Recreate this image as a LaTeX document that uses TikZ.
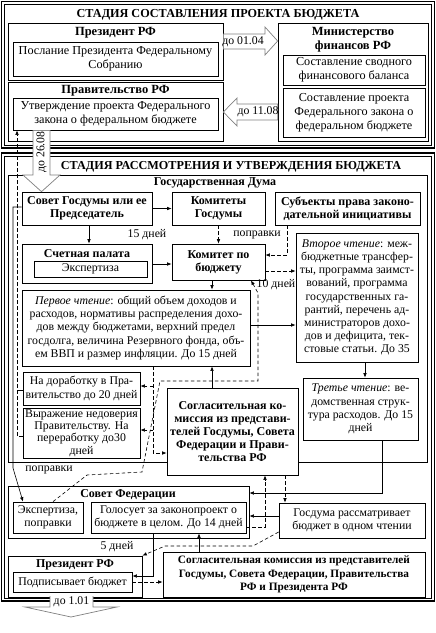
\documentclass[tikz,border=0pt]{standalone}
\usepackage{fontspec}
\setmainfont{Liberation Serif}
\usetikzlibrary{arrows.meta}
\newcommand\toptxt{\fontsize{12.2}{14}\selectfont}
\newcommand\normtxt{\fontsize{11.8}{13.2}\selectfont}
\newcommand\boldtxt{\fontsize{12}{13}\selectfont\bfseries}
\newcommand\toptitle{\fontsize{12.5}{14}\selectfont\bfseries}
\newcommand\bigtitle{\fontsize{12.2}{14}\selectfont\bfseries}
\begin{document}
\begin{tikzpicture}[x=1pt,y=-1pt,
  bx/.style={draw, line width=0.7pt, fill=white, inner sep=0pt, align=center, font=\normtxt},
  bbx/.style={bx, font=\boldtxt},
  lbl/.style={inner sep=0pt, align=center, font=\normtxt},
  ttl/.style={inner sep=0pt, align=center, font=\boldtxt},
  arr/.style={-{Latex[length=4.5pt,width=3.6pt]}, line width=0.6pt},
  darr/.style={arr, dash pattern=on 3.5pt off 2.5pt},
  plain/.style={line width=0.6pt},
  blk/.style={draw=black!50, fill=white, line width=0.7pt},
  frameout/.style={line width=1.3pt},
  framein/.style={line width=0.6pt}]
\useasboundingbox (0,0) rectangle (436,633);
% ---------- frames ----------
\draw[frameout] (1.5,1.5) rectangle (434.5,148);
\draw[framein] (4.5,4.5) rectangle (431.5,145);
\draw[frameout] (1.5,153) rectangle (434.5,601);
\draw[framein] (4.5,156) rectangle (431.5,598);
% ---------- top stage ----------
\node[font=\bigtitle, inner sep=0pt] (t1) at (218,15) {СТАДИЯ СОСТАВЛЕНИЯ ПРОЕКТА БЮДЖЕТА};
\node[bx, minimum width=215pt, minimum height=57pt] (pres) at (115.5,51.5) {};
\node[ttl, font=\toptitle] (presT) at (115.5,33) {Президент РФ};
\node[bx, font=\toptxt, minimum width=205pt, minimum height=34pt] (presIn) at (115.5,59) {Послание Президента Федеральному\\Собранию};
\node[bx, minimum width=215pt, minimum height=59pt] (prav) at (115.5,111.5) {};
\node[ttl, font=\toptitle] (pravT) at (115.5,91) {Правительство РФ};
\node[bx, font=\toptxt, minimum width=205pt, minimum height=32pt] (pravIn) at (115.5,114) {Утверждение проекта Федерального\\закона о федеральном бюджете};
\node[bx, minimum width=150pt, minimum height=118pt] (minfin) at (353,82) {};
\node[ttl, font=\toptitle] (minfinT) at (353,40) {Министерство\\финансов РФ};
\node[bx, font=\toptxt, minimum width=142pt, minimum height=30pt] (mf1) at (354,70) {Составление сводного\\финансового баланса};
\node[bx, font=\toptxt, minimum width=142pt, minimum height=49pt] (mf2) at (354,112.5) {Составление проекта\\Федерального закона о\\федеральном бюджете};
% block arrows top
\draw[blk] (pres.east |- 0,34) -- (265,34) -- (265,27) -- (minfin.west |- 0,41) -- (265,55) -- (265,49) -- (pres.east |- 0,49) -- cycle;
\node[lbl] (a1) at (243,41.5) {до 01.04};
\draw[blk] (minfin.west |- 0,104) -- (237,104) -- (237,98) -- (prav.east |- 0,112) -- (237,126) -- (237,120) -- (minfin.west |- 0,120) -- cycle;
\node[lbl] (a2) at (258,112) {до 11.08};
% ---------- second stage ----------
\node[font=\bigtitle, inner sep=0pt] (t2) at (231,167) {СТАДИЯ РАССМОТРЕНИЯ И УТВЕРЖДЕНИЯ БЮДЖЕТА};
\draw[line width=0.7pt] (8,175) rectangle (427,462);
\node[ttl] (gdT) at (215,183) {Государственная Дума};
\node[bbx, minimum width=130pt, minimum height=33pt] (sovetGD) at (87,208.5) {Совет Госдумы или ее\\Председатель};
\node[bbx, minimum width=93pt, minimum height=33pt] (komGD) at (218.5,208.5) {Комитеты\\Госдумы};
\node[bbx, minimum width=145pt, minimum height=33pt] (subj) at (347.5,208.5) {Субъекты права законо-\\дательной инициативы};
\node[bx, minimum width=130pt, minimum height=39pt] (schet) at (87,263.5) {};
\node[ttl] (schetT) at (87,254) {Счетная палата};
\node[bx, minimum width=113pt, minimum height=16pt] (schetIn) at (90.5,269) {Экспертиза};
\node[bbx, minimum width=93pt, minimum height=36pt] (kombud) at (218.5,262) {Комитет по\\бюджету};
\node[bx, minimum width=122pt, minimum height=129pt] (second) at (357,297.5) {\textit{Второе чтение}: меж-\\бюджетные трансфер-\\ты, программа заимст-\\вований, программа\\государственных га-\\рантий, перечень ад-\\министраторов дохо-\\дов и дефицита, тек-\\стовые статьи. До 35};
\node[bx, minimum width=228pt, minimum height=76pt] (first) at (136,328) {\textit{Первое чтение}: общий объем доходов и\\расходов, нормативы распределения дохо-\\дов между бюджетами, верхний предел\\госдолга, величина Резервного фонда, объ-\\ем ВВП и размер инфляции. До 15 дней};
\node[bx, minimum width=117pt, minimum height=33pt] (dorab) at (81.5,388.5) {На доработку в Пра-\\вительство до 20 дней};
\node[bx, font=\fontsize{11.8}{12.4}\selectfont, minimum width=117pt, minimum height=50pt] (nedov) at (81.5,433) {Выражение недоверия\\Правительству. На\\переработку до30\\дней};
\node[bbx, minimum width=131pt, minimum height=87pt] (sogl1) at (232.5,431.5) {Согласительная ко-\\миссия из представи-\\телей Госдумы, Совета\\Федерации и Прави-\\тельства РФ};
\node[bx, minimum width=115pt, minimum height=62pt] (third) at (360.5,409) {\textit{Третье чтение}: ве-\\домственная струк-\\тура расходов. До 15\\дней};
\node[bx, minimum width=241pt, minimum height=52pt] (sovfed) at (128.5,512) {};
\node[ttl] (sovfedT) at (128,494.5) {Совет Федерации};
\node[bx, minimum width=70pt, minimum height=31pt] (exp) at (48,517.5) {Экспертиза,\\поправки};
\node[bx, minimum width=155pt, minimum height=31pt] (golos) at (168.5,517.5) {Голосует за законопроект о\\бюджете в целом. До 14 дней};
\node[bx, minimum width=146pt, minimum height=35pt] (gdone) at (352,520.5) {Госдума рассматривает\\бюджет в одном чтении};
\node[bx, minimum width=134pt, minimum height=41pt] (presB) at (75,576.5) {};
\node[ttl] (presBT) at (75,564.5) {Президент РФ};
\node[bx, minimum width=119pt, minimum height=20pt] (podp) at (72.5,582) {Подписывает бюджет};
\node[bbx, font=\fontsize{11.3}{13.5}\selectfont\bfseries, minimum width=262pt, minimum height=45pt] (sogl2) at (294,574.5) {Согласительная комиссия из представителей\\Госдумы, Совета Федерации, Правительства\\РФ и Президента РФ};
% labels
\node[lbl] (l15) at (147,235) {15 дней};
\node[lbl] (lpop1) at (257,235) {поправки};
\node[lbl] (l10) at (276,284.5) {10 дней};
\node[lbl] (lpop2) at (49,470) {поправки};
\node[lbl] (l5) at (117,547) {5 дней};
% junction coordinates
\coordinate (j1) at (153,386);
\coordinate (j2) at (153,430);
\coordinate (j3) at (17,390);
% ---------- connectors ----------
\draw[arr] (sovetGD.east) -- (komGD.west);
\draw[arr] (89,0 |- sovetGD.south) -- (89,0 |- schet.north);
\draw[darr] (komGD.south) -- (kombud.north);
\draw[darr] (287,0 |- subj.south) -- (287,255) -- (kombud.east |- 0,255);
\draw[arr] (schet.east |- 0,264) -- (kombud.west |- 0,264);
\draw[darr] (kombud.east |- 0,271) -- (second.west |- 0,271);
\draw[arr] (212,0 |- kombud.south) -- (212,0 |- first.north);
\draw[darr] (53,0 |- exp.north) -- (87,475) -- (142,472) -- (160,381) -- (258,381) -- (258,293) -- (kombud.south -| 251,0);
\draw[arr] (212,0 |- sogl1.north) -- (212,0 |- first.south);
\draw[arr] (first.east |- 0,325) -- (second.west |- 0,325);
\draw[arr] (365,0 |- second.south) -- (365,0 |- third.north);
\draw[arr] (382,0 |- third.south) -- (382,493) -- (sovfed.east |- 0,493);
\draw[arr] (gdone.west |- 0,516) -- (sovfed.east |- 0,516);
\draw[darr] (golos.east |- 0,527) -- (265,527) -- (265,0 |- sogl1.south);
\draw[darr] (285,0 |- sogl1.south) -- (285,0 |- gdone.north);
\draw[arr] (153,0 |- golos.south) -- (153,576) -- (podp.east |- 0,576);
\draw[darr] (gdone.west |- 0,532) -- (253,546) -- (165,546) -- (presB.north east);
\draw[arr] (199,0 |- sogl2.north) -- (199,0 |- golos.south);
\draw[darr] (podp.east |- 0,582) -- (sogl2.west |- 0,582);
\draw[darr] (153,0 |- first.south) -- (153,453) -- (sogl1.west |- 0,453);
\draw[darr] (j1) -- (dorab.east |- j1);
\draw[darr] (j2) -- (nedov.east |- j2);
\draw[darr] (nedov.west |- 0,436) -- (17,436) -- (17,0 |- pravIn.south);
\draw[plain] (dorab.west |- j3) -- (j3);
\draw[arr] (sovetGD.west |- 0,207) -- (13,207) -- (13,468) -- (23,0 |- exp.north);
% ---------- block arrows crossing frames ----------
\draw[blk] (33,0 |- pravIn.south) -- (33,175) -- (23,175) -- (sovetGD.north -| 41.5,0) -- (60,175) -- (50,175) -- (50,0 |- pravIn.south) -- cycle;
\node[lbl, rotate=90] (a3) at (41.5,152) {до 26.08};
\draw[blk] (50,596) -- (50,607) -- (25,607) -- (71,617) -- (117,607) -- (93,607) -- (93,596);
\node[lbl] (a4) at (71.5,602) {до 1.01};
\end{tikzpicture}
\end{document}
